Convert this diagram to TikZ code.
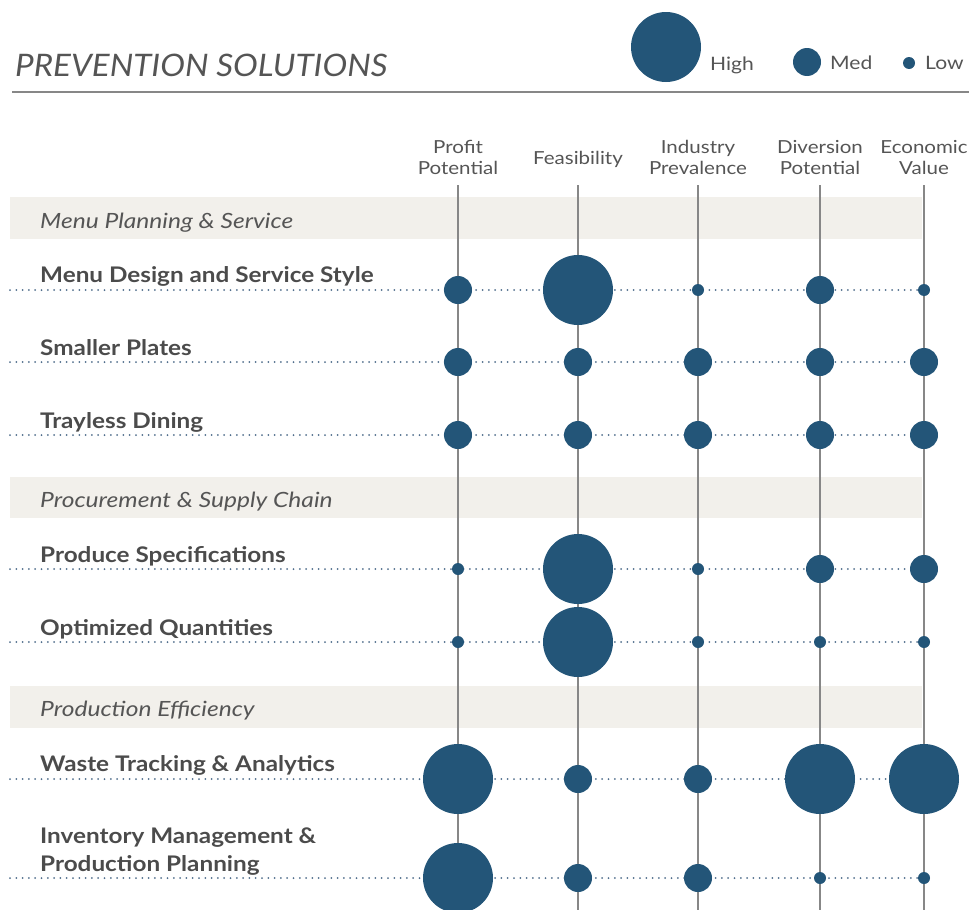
\documentclass[tikz,border=0pt]{standalone}
\usepackage{fontspec}
\setmainfont{Lato}
\newfontfamily\titlefont[FakeStretch=1.07]{Lato}
\newfontfamily\rowfont[FakeStretch=1.13]{Lato}
\newfontfamily\bandfont[FakeStretch=1.17]{Lato}
\newfontfamily\hdrfont[FakeStretch=1.14]{Lato}
\definecolor{dot}{RGB}{35,85,120}
\definecolor{rowline}{RGB}{80,110,140}
\definecolor{band}{RGB}{242,240,235}
\definecolor{txt}{RGB}{75,75,75}
\definecolor{htxt}{RGB}{85,85,85}
\definecolor{colline}{RGB}{135,135,135}
\tikzset{
  hi/.style={circle,fill=dot,inner sep=0pt,minimum size=70pt},
  me/.style={circle,fill=dot,inner sep=0pt,minimum size=28pt},
  lo/.style={circle,fill=dot,inner sep=0pt,minimum size=12pt},
  rowlbl/.style={anchor=base west,inner sep=0pt,text=txt,font=\rowfont\fontsize{21.5}{24}\selectfont\bfseries},
  bandlbl/.style={anchor=base west,inner sep=0pt,text=htxt,font=\bandfont\fontsize{21}{24}\selectfont\itshape},
  hdr/.style={anchor=base,inner sep=0pt,text=htxt,align=center,font=\hdrfont\fontsize{18}{20.5}\selectfont},
  leg/.style={anchor=base west,inner sep=0pt,text=htxt,font=\hdrfont\fontsize{18.5}{20}\selectfont},
  dotted row/.style={draw=rowline,line width=2pt,line cap=round,dash pattern=on 0pt off 6.3pt},
  colrule/.style={draw=colline,line width=1.6pt},
  bandbox/.style={fill=band,draw=none}
}
\begin{document}
\begin{tikzpicture}[x=1pt,y=-1pt]
\useasboundingbox (0,0) rectangle (969,910);
% title
\node[anchor=base west,inner sep=0pt,text=htxt,font=\titlefont\fontsize{31}{34}\selectfont\itshape] (title) at (15,76) {PREVENTION SOLUTIONS};
\coordinate (ruleL) at (12,92);
\coordinate (ruleR) at (969,92);
\draw[draw=colline,line width=2.2pt] (ruleL) -- (ruleR);
% legend
\node[hi] (lh) at (666,47) {};
\node[leg] (lht) at (710,70) {High};
\node[me] (lm) at (807,62) {};
\node[leg] (lmt) at (830,69) {Med};
\node[lo] (ll) at (909,63) {};
\node[leg] (llt) at (925,69) {Low};
% bands
\fill[bandbox] (10,197) rectangle (922,239);
\fill[bandbox] (10,477) rectangle (922,518);
\fill[bandbox] (10,686) rectangle (922,728);
\node[bandlbl] (b1) at (40,228) {Menu Planning \& Service};
\node[bandlbl] (b2) at (40,507) {Procurement \& Supply Chain};
\node[bandlbl] (b3) at (40,716) {Production Efficiency};
% headers
\node[hdr] (h1) at (458,174) {Profit\\Potential};
\node[hdr] (h2) at (578,164) {Feasibility};
\node[hdr] (h3) at (698,174) {Industry\\Prevalence};
\node[hdr] (h4) at (820,174) {Diversion\\Potential};
\node[hdr] (h5) at (924,174) {Economic\\Value};
% column lines
\foreach \i/\x in {1/458,2/578,3/698,4/820,5/924}{
  \coordinate (t\i) at (\x,185);
  \coordinate (e\i) at (\x,910);
  \draw[colrule] (t\i) -- (e\i);
}
% rows
\node[rowlbl] (r1) at (40,282.5) {Menu Design and Service Style};
\node[rowlbl] (r2) at (40,355.5) {Smaller Plates};
\node[rowlbl] (r3) at (40,428.5) {Trayless Dining};
\node[rowlbl] (r4) at (40,562) {Produce Specifications};
\node[rowlbl] (r5) at (40,635) {Optimized Quantities};
\node[rowlbl] (r6) at (40,771) {Waste Tracking \& Analytics};
\node[rowlbl] (r7a) at (40,843.5) {Inventory Management \&};
\node[rowlbl] (r7b) at (40,871.5) {Production Planning};
\foreach \r/\y/\a/\b/\c/\d/\e in {
  1/290/me/hi/lo/me/lo,
  2/362/me/me/me/me/me,
  3/435/me/me/me/me/me,
  4/569/lo/hi/lo/me/me,
  5/642/lo/hi/lo/lo/lo,
  6/779/hi/me/me/hi/hi,
  7/878/hi/me/me/lo/lo}{
  \coordinate (s\r) at (10,\y);
  \coordinate (f\r) at (924,\y);
  \draw[dotted row] (s\r) -- (f\r);
  \node[\a] (c\r-1) at (458,\y) {};
  \node[\b] (c\r-2) at (578,\y) {};
  \node[\c] (c\r-3) at (698,\y) {};
  \node[\d] (c\r-4) at (820,\y) {};
  \node[\e] (c\r-5) at (924,\y) {};
}
\end{tikzpicture}
\end{document}
